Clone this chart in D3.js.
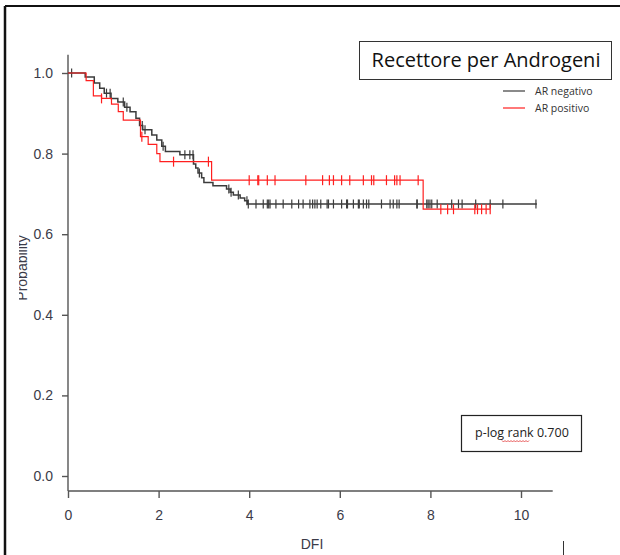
<!DOCTYPE html>
<html>
<head>
<meta charset="utf-8">
<script src="https://cdn.jsdelivr.net/npm/d3@7"></script>
<style>
  html, body { margin: 0; padding: 0; background: #fff; }
  svg { display: block; }
</style>
</head>
<body>
<svg id="chart" width="620" height="555"></svg>
<script>
// Kaplan-Meier step events: time of event, survival after it
const negTimes = [0.38, 0.58, 0.70, 0.80, 0.95, 1.10, 1.25, 1.37, 1.50, 1.58, 1.65, 1.85, 1.96, 2.07, 2.15, 2.47, 2.77, 2.82, 2.87, 2.95, 3.00, 3.20, 3.50, 3.58, 3.65, 3.80, 3.90, 3.96];
const negSurv  = [0.990, 0.975, 0.962, 0.950, 0.937, 0.928, 0.915, 0.904, 0.888, 0.870, 0.859, 0.846, 0.834, 0.818, 0.805, 0.797, 0.774, 0.764, 0.752, 0.740, 0.728, 0.720, 0.712, 0.704, 0.697, 0.690, 0.683, 0.675];
const negEnd = 10.35;
const negCensor = [0.08, 0.85, 0.93, 1.22, 1.30, 1.64, 1.70, 2.10, 2.58, 2.69, 2.76, 2.90, 3.55, 3.60, 3.76, 3.95,
  3.98, 4.15, 4.31, 4.40, 4.43, 4.46, 4.59, 4.75, 4.94, 5.09, 5.19, 5.34, 5.40, 5.45, 5.50, 5.58, 5.72, 5.75, 5.86,
  6.04, 6.15, 6.17, 6.30, 6.41, 6.43, 6.52, 6.59, 6.64, 6.92, 7.11, 7.18, 7.26, 7.31, 7.70, 7.71, 7.92, 7.95, 7.99,
  8.03, 8.15, 8.47, 8.62, 8.70, 9.00, 9.32, 9.60, 10.33];

const posTimes = [0.40, 0.56, 0.74, 0.96, 1.11, 1.22, 1.60, 1.77, 1.96, 2.03, 3.17, 7.84];
const posSurv  = [0.981, 0.943, 0.937, 0.923, 0.904, 0.883, 0.842, 0.823, 0.800, 0.780, 0.734, 0.662];
const posEnd = 9.32;
const posCensor = [0.74, 1.63, 2.33, 3.10,
  4.00, 4.19, 4.21, 4.40, 4.57, 5.25, 5.62, 5.77, 5.86, 6.04, 6.22, 6.52, 6.70, 6.75, 7.03, 7.21, 7.26, 7.33, 7.73,
  8.23, 8.38, 8.51, 8.98, 9.04, 9.13, 9.23, 9.32];

const xTicks = [0, 2, 4, 6, 8, 10];
const yTicks = [0, 0.2, 0.4, 0.6, 0.8, 1.0];

const COLORS = {
  neg: "#3c3c3c",
  pos: "#ff1f1f",
  axis: "#555",
  label: "#3b3b48",
  frame: "#111",
};

const AXIS_FONT = "'Liberation Sans', Arial, sans-serif";

const svg = d3.select("#chart");

const x = d3.scaleLinear().domain([0, 10]).range([68, 521]);
const y = d3.scaleLinear().domain([0, 1]).range([476, 73]);

// outer frame (left + top edges only)
svg.append("line").attr("x1", 5).attr("x2", 5).attr("y1", 6).attr("y2", 555)
  .attr("stroke", COLORS.frame).attr("stroke-width", 2.5);
svg.append("line").attr("x1", 5).attr("x2", 620).attr("y1", 6).attr("y2", 6)
  .attr("stroke", COLORS.frame).attr("stroke-width", 2);
svg.append("line").attr("x1", 563.5).attr("x2", 563.5).attr("y1", 541).attr("y2", 555)
  .attr("stroke", "#333").attr("stroke-width", 1);

// axes
const xAxis = svg.append("g")
  .attr("transform", "translate(0,491)")
  .call(d3.axisBottom(x).tickValues(xTicks).tickSize(7).tickPadding(12).tickFormat(d3.format("d")));
xAxis.select(".domain").remove();
xAxis.append("line").attr("x1", x(0)).attr("x2", x(10.7)).attr("y1", 0).attr("y2", 0);

const yAxis = svg.append("g")
  .attr("transform", "translate(68,0)")
  .call(d3.axisLeft(y).tickValues(yTicks).tickSize(6).tickPadding(9).tickFormat(d3.format(".1f")));
yAxis.select(".domain").remove();
yAxis.append("line").attr("x1", 0).attr("x2", 0).attr("y1", y(1.045)).attr("y2", 491);

svg.selectAll("g line").attr("stroke", COLORS.axis).attr("stroke-width", 1.4);
svg.selectAll("g text")
  .attr("fill", COLORS.label)
  .style("font-family", AXIS_FONT)
  .style("font-size", "14px");

// axis titles
svg.append("text")
  .attr("x", 312).attr("y", 549)
  .attr("text-anchor", "middle")
  .attr("fill", COLORS.label)
  .style("font-family", AXIS_FONT)
  .style("font-size", "14px")
  .text("DFI");

// y title is partly cut off in the original
svg.append("clipPath").attr("id", "ylab-clip")
  .append("rect").attr("x", 19).attr("y", 150).attr("width", 30).attr("height", 250);
svg.append("g")
  .attr("clip-path", "url(#ylab-clip)")
  .append("text")
  .attr("transform", "translate(27,268) rotate(-90)")
  .attr("text-anchor", "middle")
  .attr("fill", COLORS.label)
  .style("font-family", AXIS_FONT)
  .style("font-size", "14px")
  .text("Probability");

// survival curves
function survAt(times, surv, t) {
  let s = 1;
  times.forEach((ti, i) => { if (ti <= t) s = surv[i]; });
  return s;
}

function drawCurve(times, surv, end, censor, color, width, tickHalf) {
  const pts = [[0, 1]];
  times.forEach((t, i) => pts.push([t, surv[i]]));
  pts.push([end, surv[surv.length - 1]]);

  const line = d3.line()
    .x((d) => x(d[0]))
    .y((d) => y(d[1]))
    .curve(d3.curveStepAfter);

  svg.append("path")
    .datum(pts)
    .attr("d", line)
    .attr("fill", "none")
    .attr("stroke", color)
    .attr("stroke-width", width);

  svg.append("g")
    .selectAll("line")
    .data(censor)
    .enter()
    .append("line")
    .attr("x1", (d) => x(d))
    .attr("x2", (d) => x(d))
    .attr("y1", (d) => y(survAt(times, surv, d)) - tickHalf)
    .attr("y2", (d) => y(survAt(times, surv, d)) + tickHalf)
    .attr("stroke", color)
    .attr("stroke-width", 1.2);
}

drawCurve(negTimes, negSurv, negEnd, negCensor, COLORS.neg, 1.5, 4.5);
drawCurve(posTimes, posSurv, posEnd, posCensor, COLORS.pos, 1.2, 5);

// title box
svg.append("rect")
  .attr("x", 359.5).attr("y", 41.5).attr("width", 252).attr("height", 38)
  .attr("fill", "#fff").attr("stroke", "#333").attr("stroke-width", 1);
svg.append("text")
  .attr("x", 486).attr("y", 67)
  .attr("text-anchor", "middle")
  .attr("fill", "#111")
  .style("font-family", "'Open Sans', sans-serif")
  .style("font-size", "20px")
  .text("Recettore per Androgeni");

// legend
const legend = [
  { label: "AR negativo", color: COLORS.neg, y: 91 },
  { label: "AR positivo", color: COLORS.pos, y: 108 },
];
legend.forEach((d) => {
  svg.append("line")
    .attr("x1", 503).attr("x2", 525).attr("y1", d.y).attr("y2", d.y)
    .attr("stroke", d.color).attr("stroke-width", 1.2);
  svg.append("text")
    .attr("x", 535).attr("y", d.y + 4)
    .attr("fill", "#333")
    .style("font-family", "'Open Sans', sans-serif")
    .style("font-size", "10.5px")
    .text(d.label);
});

// p-value box
svg.append("rect")
  .attr("x", 461.5).attr("y", 415.5).attr("width", 120).attr("height", 36)
  .attr("fill", "#fff").attr("stroke", "#222").attr("stroke-width", 1.2);
svg.append("text")
  .attr("x", 475).attr("y", 437)
  .attr("fill", "#222")
  .style("font-family", "'Open Sans', sans-serif")
  .style("font-size", "12.5px")
  .text("p-log rank 0.700");

// spell-check squiggle under "rank"
const wave = d3.range(502, 530.5, 1.5).map((px, i) => [px, 441 + (i % 2 ? 1 : -0.5)]);
svg.append("path")
  .attr("d", d3.line()(wave))
  .attr("fill", "none")
  .attr("stroke", "#e03030")
  .attr("stroke-width", 0.8);
</script>
</body>
</html>
